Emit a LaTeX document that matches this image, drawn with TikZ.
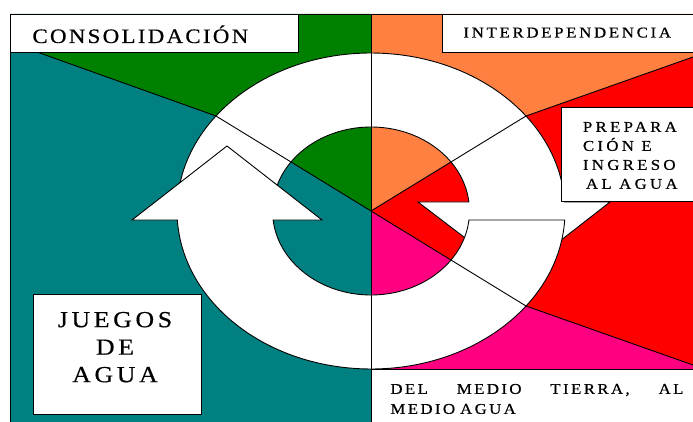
\documentclass[tikz,border=0pt]{standalone}
\usepackage{fontspec}
\setmainfont{Liberation Serif}[FakeStretch=1.12,FakeBold=0.5]
\definecolor{verde}{RGB}{0,128,0}
\definecolor{azulverde}{RGB}{0,128,128}
\definecolor{naranja}{RGB}{255,128,64}
\definecolor{rojo}{RGB}{255,0,0}
\definecolor{rosa}{RGB}{255,0,128}
\newcommand{\espaciado}[1]{\addfontfeatures{LetterSpace=#1}}
\begin{document}
\begin{tikzpicture}[x=1pt,y=-1pt,line width=0.9pt,
  caja/.style={draw,fill=white},
  flecha/.style={draw,fill=white,line join=miter},
  texto/.style={inner sep=0pt,align=left}]
\useasboundingbox (0,0) rectangle (693,422);
\clip (0,0) rectangle (693,422);
\coordinate (C) at (371,211);
\coordinate (TL) at (216,116);
\coordinate (TR) at (526,116);
\coordinate (BR) at (526,306);
\coordinate (L) at (37,52);
\coordinate (R1) at (693,57);
\coordinate (R2) at (693,365);
% sectores de color
\fill[azulverde] (10,14) rectangle (371,430);
\fill[verde] (10,14) -- (371,14) -- (C) -- (TL) -- (L) -- (10,52) -- cycle;
\fill[naranja] (371,14) -- (693,14) -- (R1) -- (TR) -- (C) -- cycle;
\fill[rojo] (C) -- (TR) -- (R1) -- (R2) -- (BR) -- cycle;
\fill[rosa] (C) -- (BR) -- (R2) -- (693,369) -- (371,369) -- cycle;
% flecha de arriba
\draw[flecha] (177.3,202) arc[start angle=183.27, end angle=356.73, x radius=194, y radius=158]
  -- (610,202) -- (515,276) -- (418,202) -- (468.9,202)
  arc[start angle=353.85, end angle=186.15, x radius=98.5, y radius=84] -- cycle;
% flecha de abajo
\draw[flecha] (564.7,220) arc[start angle=3.27, end angle=176.73, x radius=194, y radius=158]
  -- (132,220) -- (227,146) -- (322,220) -- (273.1,220)
  arc[start angle=173.85, end angle=6.15, x radius=98.5, y radius=84] -- cycle;
% lineas
\draw (L) -- (TL) -- (C) -- (TR) -- (R1);
\draw (C) -- (BR) -- (R2);
\draw (371,14) -- (371,430);
\draw (10,430) -- (10,14) -- (700,14);
% cajas
\draw[caja] (10,14) rectangle (298,52);
\draw[caja] (442,14) rectangle (700,52);
\draw[caja] (561,107) rectangle (700,201);
\draw[caja] (33,294) rectangle (201,414);
\draw[caja] (371,369) rectangle (700,430);
\node[texto,anchor=base west,font=\fontsize{20.5}{24}\selectfont\espaciado{11}] (consol) at (32,43) {CONSOLIDACIÓN};
\node[texto,anchor=base west,font=\fontsize{15}{19}\selectfont\espaciado{18}] (inter) at (463,37.5) {INTERDEPENDENCIA};
\node[texto,anchor=north west,font=\fontsize{15}{19}\selectfont\espaciado{22}] (prep) at (582.5,121.5)
  {PREPARA\\CIÓN E\\INGRESO\\\hspace*{3pt}AL AGUA};
\node[texto,anchor=north,align=center,font=\fontsize{23}{27.5}\selectfont\espaciado{16}] (juegos) at (115,311.5)
  {JUEGOS\\DE\\AGUA};
\node[texto,anchor=north west,text width=293pt,font=\fontsize{15}{20}\selectfont\espaciado{16}] (medio) at (390,383.5)
  {DEL\hfill MEDIO\hfill TIERRA,\hfill AL\\MEDIO AGUA};
\end{tikzpicture}
\end{document}
